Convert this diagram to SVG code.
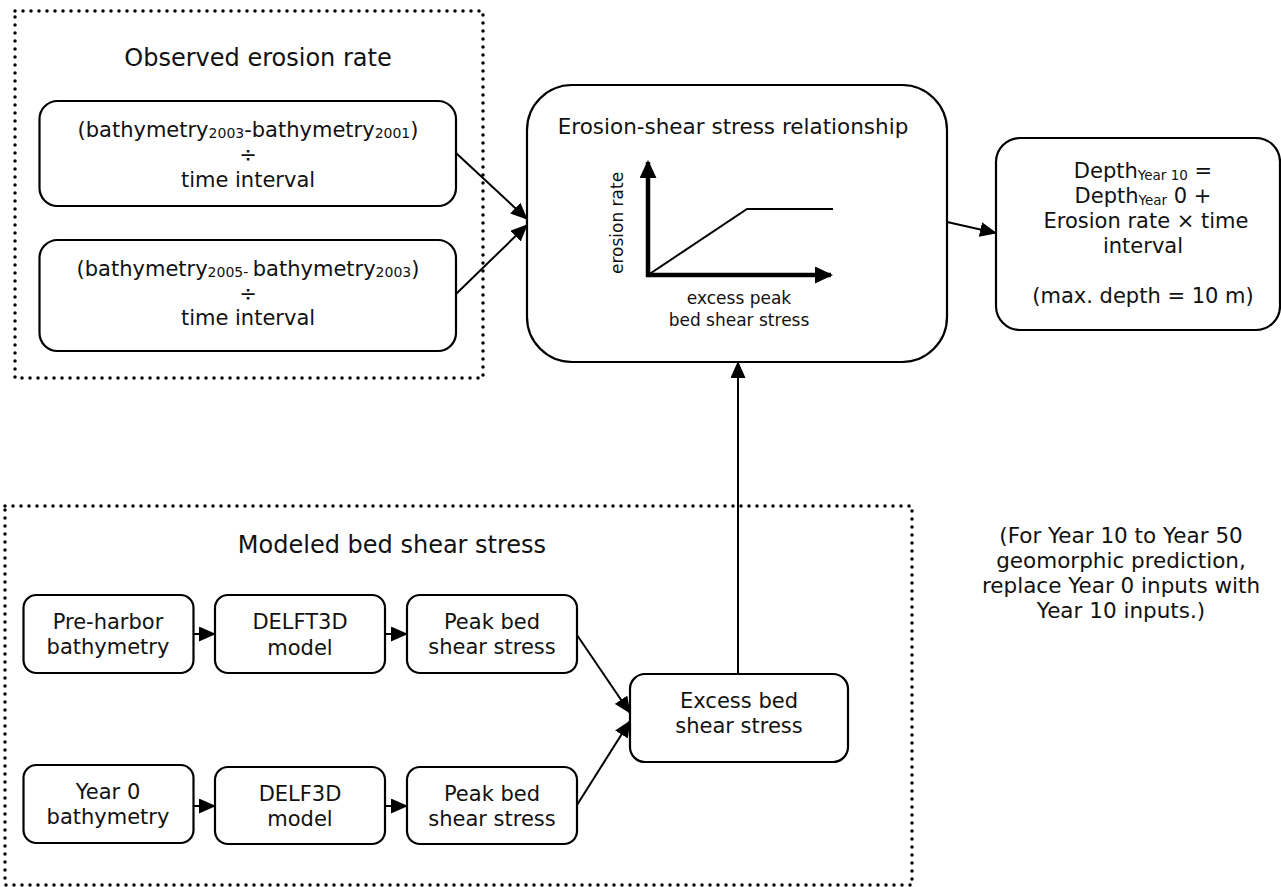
<svg xmlns="http://www.w3.org/2000/svg" width="1281" height="887" viewBox="0 0 1281 887">
<defs>
<style>
text{font-family:"DejaVu Sans","Verdana",sans-serif;fill:#111;text-anchor:middle;font-size:21px}
.t{font-size:24px}
.t2{font-size:21.5px}
.s{font-size:17px}
.n{font-size:21.5px}
.box{fill:#fff;stroke:#000;stroke-width:2.2}
.dot{fill:none;stroke:#000;stroke-width:3.5;stroke-dasharray:0 8;stroke-linecap:round}
.c{fill:none;stroke:#000;stroke-width:2}
.ax{fill:none;stroke:#000;stroke-width:4.5}
</style>
<marker id="ah" markerUnits="userSpaceOnUse" markerWidth="17" markerHeight="15" refX="16" refY="7.5" orient="auto">
<path d="M0,0 L17,7.5 L0,15 z" fill="#000"/>
</marker>
<marker id="ahb" markerUnits="userSpaceOnUse" markerWidth="18" markerHeight="17" refX="16" refY="8.5" orient="auto">
<path d="M0,0 L18,8.5 L0,17 z" fill="#000"/>
</marker>
</defs>
<rect width="1281" height="887" fill="#fff"/>

<g id="observed-group">
<rect class="dot" x="15" y="11" width="468" height="367"/>
<text class="t" x="258" y="66">Observed erosion rate</text>
</g>
<g id="modeled-group">
<rect class="dot" x="5" y="506" width="907" height="379"/>
<text class="t" x="392" y="553" font-size="23.5">Modeled bed shear stress</text>
</g>

<g id="connectors">
<line class="c" x1="456" y1="153" x2="527" y2="219" marker-end="url(#ah)"/>
<line class="c" x1="456" y1="294" x2="527" y2="225" marker-end="url(#ah)"/>
<line class="c" x1="947" y1="222" x2="996" y2="233" marker-end="url(#ah)"/>
<line class="c" x1="738" y1="674" x2="738" y2="362" marker-end="url(#ah)"/>
<line class="c" x1="193" y1="634" x2="215" y2="634" marker-end="url(#ah)"/>
<line class="c" x1="385" y1="634" x2="407" y2="634" marker-end="url(#ah)"/>
<line class="c" x1="193" y1="806" x2="215" y2="806" marker-end="url(#ah)"/>
<line class="c" x1="385" y1="806" x2="407" y2="806" marker-end="url(#ah)"/>
<line class="c" x1="577" y1="635" x2="630" y2="713" marker-end="url(#ah)"/>
<line class="c" x1="577" y1="805" x2="630" y2="721" marker-end="url(#ah)"/>
</g>

<g id="obs1">
<rect class="box" x="39.5" y="101" width="416.5" height="105" rx="18"/>
<text x="248" y="137">(bathymetry<tspan font-size="14" dy="1">2003</tspan><tspan dy="-1">-bathymetry</tspan><tspan font-size="14" dy="1">2001</tspan><tspan dy="-1">)</tspan></text>
<text x="248" y="162" font-size="18">÷</text>
<text x="248" y="187">time interval</text>
</g>
<g id="obs2">
<rect class="box" x="39.5" y="240" width="416.5" height="111" rx="18"/>
<text x="248" y="276">(bathymetry<tspan font-size="14" dy="1">2005- </tspan><tspan dy="-1"> bathymetry</tspan><tspan font-size="14" dy="1">2003</tspan><tspan dy="-1">)</tspan></text>
<text x="248" y="301" font-size="18">÷</text>
<text x="248" y="325">time interval</text>
</g>

<g id="relationship">
<rect class="box" x="527" y="85" width="420" height="277" rx="45"/>
<text class="t2" x="733" y="134">Erosion-shear stress relationship</text>
<line class="ax" x1="648" y1="277" x2="648" y2="162" marker-end="url(#ahb)"/>
<line class="ax" x1="646" y1="275" x2="831" y2="275" marker-end="url(#ahb)"/>
<polyline class="c" points="648,275 747,209 833,209"/>
<text class="s" transform="translate(623,223) rotate(-90)">erosion rate</text>
<text class="s" x="739" y="304">excess peak</text>
<text class="s" x="739" y="326">bed shear stress</text>
</g>

<g id="depth">
<rect class="box" x="996" y="138" width="284" height="192" rx="24"/>
<text x="1143" y="178">Depth<tspan font-size="13.5" dy="2">Year 10</tspan><tspan dy="-2"> =</tspan></text>
<text x="1143" y="203">Depth<tspan font-size="13.5" dy="2">Year</tspan><tspan dy="-2"> 0 +</tspan></text>
<text x="1146" y="228">Erosion rate × time</text>
<text x="1143" y="253">interval</text>
<text x="1143" y="303">(max. depth = 10 m)</text>
</g>

<g id="note">
<text class="n" x="1121" y="543">(For Year 10 to Year 50</text>
<text class="n" x="1121" y="568">geomorphic prediction,</text>
<text class="n" x="1121" y="593">replace Year 0 inputs with</text>
<text class="n" x="1121" y="618">Year 10 inputs.)</text>
</g>

<g id="preharbor">
<rect class="box" x="23.5" y="595" width="170" height="78" rx="13"/>
<text x="108" y="629">Pre-harbor</text>
<text x="108" y="654">bathymetry</text>
</g>
<g id="delft3d-1">
<rect class="box" x="215" y="595" width="170" height="78" rx="13"/>
<text x="300" y="629">DELFT3D</text>
<text x="300" y="655">model</text>
</g>
<g id="peak-1">
<rect class="box" x="407" y="595" width="170" height="78" rx="13"/>
<text x="492" y="629">Peak bed</text>
<text x="492" y="654">shear stress</text>
</g>
<g id="year0">
<rect class="box" x="23.5" y="765" width="170" height="78" rx="13"/>
<text x="108" y="799">Year 0</text>
<text x="108" y="824">bathymetry</text>
</g>
<g id="delf3d-2">
<rect class="box" x="215" y="767" width="170" height="77" rx="13"/>
<text x="300" y="801">DELF3D</text>
<text x="300" y="826">model</text>
</g>
<g id="peak-2">
<rect class="box" x="407" y="767" width="170" height="77" rx="13"/>
<text x="492" y="801">Peak bed</text>
<text x="492" y="826">shear stress</text>
</g>
<g id="excess">
<rect class="box" x="630" y="674" width="218" height="88" rx="15"/>
<text x="739" y="708">Excess bed</text>
<text x="739" y="733">shear stress</text>
</g>
</svg>
